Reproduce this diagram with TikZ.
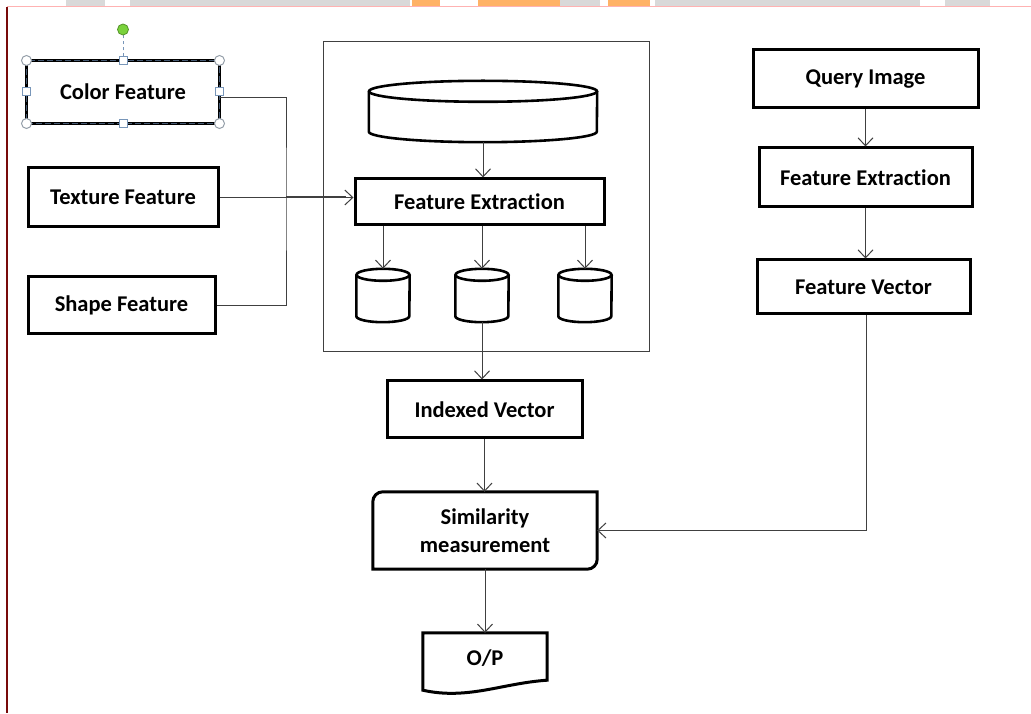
\documentclass[tikz,border=0pt]{standalone}
\usepackage{fontspec}
\setmainfont[Ligatures={NoCommon,NoRare,NoDiscretionary}]{Carlito}
\usetikzlibrary{arrows.meta}

\definecolor{linkgray}{RGB}{64,64,64}
\definecolor{handleblue}{RGB}{120,150,185}
\definecolor{handlegray}{RGB}{150,160,170}
\definecolor{slate}{RGB}{70,90,115}
\definecolor{grip}{RGB}{122,210,60}
\definecolor{edgered}{RGB}{120,10,10}

% cylinder drawn round an empty node: name, x radius, y radius
\newcommand\drum[3]{%
  \draw[drumline] ([yshift=-#3]#1.north west) -- ([yshift=#3]#1.south west)
    arc[start angle=180,end angle=360,x radius=#2,y radius=#3]
    -- ([yshift=-#3]#1.north east);
  \draw[drumline] ([yshift=-#3]#1.north) ellipse[x radius=#2,y radius=#3];}

\begin{document}
\begin{tikzpicture}[x=1pt,y=1pt,
    font=\fontsize{22.5}{28}\selectfont\bfseries,
    box/.style={draw,line width=3pt,minimum width=#1,inner sep=0pt},
    plain/.style={inner sep=0pt,minimum width=#1},
    drumline/.style={line width=2.6pt,fill=white},
    link/.style={draw=linkgray,line width=1pt},
    arrow/.style={link,-{Straight Barb[length=8pt,width=15pt]}},
    handle/.style={draw=handlegray,fill=white,line width=1pt},
    square/.style={draw=handleblue,fill=white,line width=1pt}]
    \useasboundingbox (0,0) rectangle (1031,713);
    % page edges
    \fill[gray!30] (66,707) rectangle (105,713);
    \fill[gray!30] (130,707) rectangle (410,713);
    \fill[orange!60] (412,707) rectangle (440,713);
    \fill[orange!60] (478,707) rectangle (560,713);
    \fill[gray!30] (560,707) rectangle (600,713);
    \fill[orange!60] (608,707) rectangle (650,713);
    \fill[gray!30] (655,707) rectangle (920,713);
    \fill[gray!30] (945,707) rectangle (990,713);
    \draw[red!30,line width=1pt] (7,706) -- (1031,706);
    \draw[edgered,line width=1.5pt] (7,706) -- (7,0);

    % feature boxes
    \node[box=190pt,minimum height=60pt,draw=none] (cf) at (123,621) {Color Feature};
    \node[box=190pt,minimum height=59pt] (tf) at (123,515.5) {Texture Feature};
    \node[box=187pt,minimum height=57pt] (sf) at (121.5,407.5) {Shape Feature};
    \draw[line width=3pt] (cf.north west) rectangle (cf.south east);
    \draw[slate,line width=1.2pt,dash pattern=on 6pt off 3pt] (cf.north west) rectangle (cf.south east);
    \draw[handleblue,line width=1pt,dashed] ([yshift=4pt]cf.north) -- ++(0,21);
    \filldraw[fill=grip,draw=grip!70!black,line width=0.8pt] ([yshift=31pt]cf.north) circle (5.5pt);
    \foreach \a in {north west,north east,south west,south east}
        \draw[handle] (cf.\a) circle (5pt);
    \foreach \a in {north,south,east,west}
        \draw[square] (cf.\a) +(-4pt,-4pt) rectangle +(4pt,4pt);

    % database block
    \draw[linkgray,line width=1pt] (323,361) rectangle (649,671);
    \node[plain=228pt,minimum height=61pt] (db) at (483,601.5) {};
    \drum{db}{114pt}{10.5pt}
    \node[box=249pt,minimum height=46pt] (fe) at (479.5,511) {Feature Extraction};
    \node[plain=53pt,minimum height=53pt] (c1) at (383,417.5) {};
    \node[plain=53pt,minimum height=53pt] (c2) at (482,417.5) {};
    \node[plain=53pt,minimum height=53pt] (c3) at (585,417.5) {};
    \foreach \c in {c1,c2,c3}{
        \drum{\c}{26.5pt}{6pt}
    }

    % matching part
    \node[box=195pt,minimum height=57pt] (iv) at (484.5,303.5) {Indexed Vector};
    \node[plain=224pt,minimum height=77pt,align=center] (sm) at (485,182.5) {Similarity\\measurement};
    \draw[line width=3pt] ([yshift=-10pt]sm.north west) arc[start angle=180,end angle=90,radius=10pt]
        -- (sm.north east) -- ([yshift=10pt]sm.south east)
        arc[start angle=0,end angle=-90,radius=10pt] -- (sm.south west) -- cycle;
    \node[plain=124pt,minimum height=50pt] (op) at (485,55) {O/P};
    \draw[line width=3pt] (op.north west) -- (op.north east) -- ([yshift=3pt]op.south east)
        .. controls ([xshift=-45pt]op.south east) and ([xshift=45pt,yshift=-17pt]op.south west)
        .. ([yshift=-7pt]op.south west) -- cycle;

    % query side
    \node[box=225pt,minimum height=58pt] (qi) at (865.5,634) {Query Image};
    \node[box=213pt,minimum height=59pt] (fe2) at (865.5,535.5) {Feature Extraction};
    \node[box=213pt,minimum height=54pt] (fv) at (863.5,426) {Feature Vector};

    % connectors
    \coordinate (bus) at (286,516);
    \draw[link] ([yshift=-6pt]cf.east) -| (bus) |- (sf.east);
    \draw[arrow] (tf.east) -- (tf.east -| fe.west);
    \draw[link,line width=1.8pt] (bus) -- ([xshift=-8pt]bus -| fe.west);
    \draw[arrow] (db.south) -- (db.south |- fe.north);
    \foreach \c in {c1,c2,c3}
        \draw[arrow] (\c |- fe.south) -- (\c.north);
    \draw[arrow] (c2.south) -- (c2.south |- iv.north);
    \draw[arrow] (iv.south) -- (iv.south |- sm.north);
    \draw[arrow] (sm.south) -- (op.north);
    \draw[arrow] (qi.south) -- (qi.south |- fe2.north);
    \draw[arrow] (fe2.south) -- (fe2.south |- fv.north);
    \draw[arrow] ([xshift=3pt]fv.south) |- (sm.east);
\end{tikzpicture}
\end{document}
